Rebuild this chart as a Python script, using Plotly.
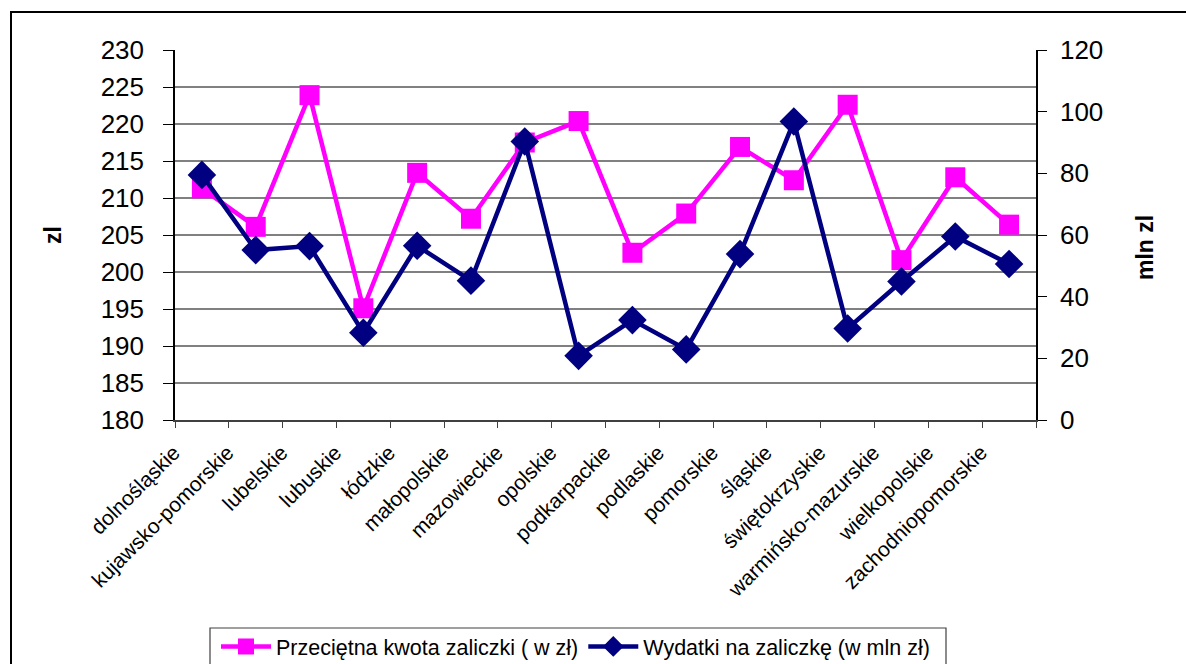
import plotly.graph_objects as go

regions = ["dolnośląskie", "kujawsko-pomorskie", "lubelskie", "lubuskie", "łódzkie",
           "małopolskie", "mazowieckie", "opolskie", "podkarpackie", "podlaskie",
           "pomorskie", "śląskie", "świętokrzyskie", "warmińsko-mazurskie",
           "wielkopolskie", "zachodniopomorskie"]

avg_amount = [211.3, 206.1, 223.9, 195.1, 213.4, 207.2, 217.5, 220.4, 202.6, 207.9,
              216.9, 212.4, 222.6, 201.6, 212.8, 206.4]

spending = [79.5, 55.1, 56.4, 28.3, 56.5, 45.2, 90.3, 20.8, 32.4, 22.9,
            53.8, 96.8, 29.7, 44.9, 59.5, 50.6]

name1 = "Przeciętna kwota zaliczki ( w zł)"
name2 = "Wydatki na zaliczkę (w mln zł)"

W, H = 1186, 664
L, R, T, B = 175, 1036, 50, 420
FONT = "Liberation Sans, Arial, sans-serif"

def px(x):
    return (x - L) / (R - L)

def py(y):
    return (B - y) / (B - T)

fig = go.Figure()
fig.add_trace(go.Scatter(
    x=regions, y=avg_amount, name=name1, mode="lines+markers",
    line=dict(color="#FF00FF", width=4.5),
    marker=dict(symbol="square", size=20, color="#FF00FF"),
    yaxis="y"))
fig.add_trace(go.Scatter(
    x=regions, y=spending, name=name2, mode="lines+markers",
    line=dict(color="#000080", width=4.5),
    marker=dict(symbol="diamond", size=22, color="#000080"),
    yaxis="y2"))

fig.update_layout(
    width=W, height=H,
    margin=dict(l=L, r=W - R, t=T, b=H - B, pad=0, autoexpand=False),
    paper_bgcolor="white", plot_bgcolor="white",
    font=dict(family=FONT, color="black"),
    showlegend=True,
    legend=dict(orientation="h", x=px(216), y=py(626), xanchor="left", yanchor="top",
                font=dict(size=21.5, family=FONT), bgcolor="rgba(0,0,0,0)",
                borderwidth=0, itemwidth=50, tracegroupgap=0),
    xaxis=dict(type="category", tickson="boundaries", ticks="outside", ticklen=6,
               tickcolor="#404040", showline=True, linecolor="#404040", linewidth=2,
               showgrid=False, tickangle=-45, tickfont=dict(size=21, family=FONT),
               ticklabelshift=-28, ticklabelstandoff=10, automargin=False,
               range=[-0.5, len(regions) - 0.5]),
    yaxis=dict(range=[180, 230], dtick=5, tick0=180, showgrid=True, gridcolor="#808080",
               gridwidth=2, zeroline=False, showline=True, linecolor="black", linewidth=1.5,
               ticks="outside", ticklen=10, tickcolor="black", automargin=False,
               tickfont=dict(size=26, family=FONT), ticklabelstandoff=14),
    yaxis2=dict(range=[0, 120], dtick=20, tick0=0, overlaying="y", side="right",
                showgrid=False, zeroline=False, showline=True, linecolor="black",
                linewidth=1.5, ticks="outside", ticklen=9, tickcolor="black",
                automargin=False,
                tickfont=dict(size=26, family=FONT), ticklabelstandoff=8),
)

fig.add_annotation(text="<b>zl</b>", xref="paper", yref="paper", x=px(53), y=0.5,
                   xanchor="center", yanchor="middle",
                   textangle=-90, showarrow=False, font=dict(size=23, family=FONT))
fig.add_annotation(text="<b>mln zl</b>", xref="paper", yref="paper", x=px(1145), y=py(248),
                   xanchor="center", yanchor="middle",
                   textangle=-90, showarrow=False, font=dict(size=23, family=FONT))

# outer frame (extends beyond right and bottom edges)
fig.add_shape(type="rect", xref="paper", yref="paper", x0=px(11), x1=px(1300),
              y0=py(800), y1=py(12), line=dict(color="black", width=2), layer="below")
# legend box
fig.add_shape(type="rect", xref="paper", yref="paper", x0=px(210), x1=px(946),
              y0=py(700), y1=py(628), line=dict(color="#404040", width=1.2), layer="below")

fig.write_html("out.html", config={"displayModeBar": False},
               post_script="document.body.style.margin='0';document.body.style.overflow='hidden';")
